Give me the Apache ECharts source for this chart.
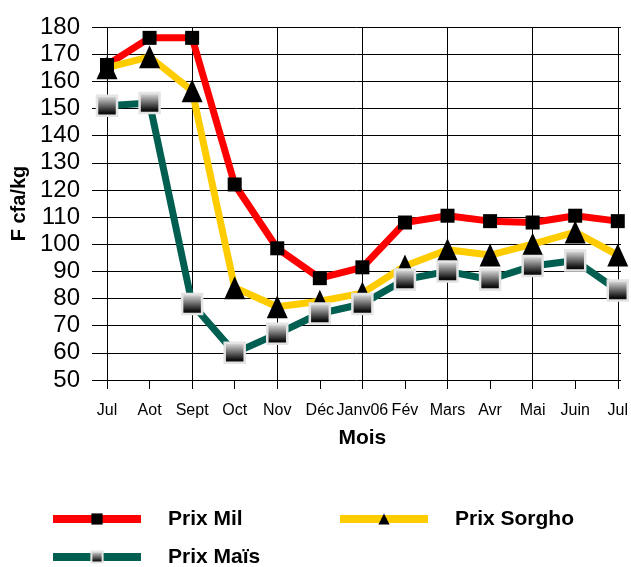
<!DOCTYPE html>
<html><head><meta charset="utf-8">
<script src="https://cdn.jsdelivr.net/npm/echarts@6/dist/echarts.min.js"></script>
<style>html,body{margin:0;padding:0;background:#fff}#c{width:631px;height:567px}</style>
</head><body><div id="c"></div>
<script>
const months = ['Jul','Aot','Sept','Oct','Nov','Déc','Janv06','Fév','Mars','Avr','Mai','Juin','Jul'];
const prixMil = [166,176,176,122,98.5,87.5,91.5,108,110.5,108.5,108,110.5,108.5];
const prixSorgho = [165,169,156.5,84,77,79,82,92,98,96,100,104.5,96];
const prixMais = [151,152,78,60,67,74.5,78,87,90,87,92,94,83];
const yMin = 50, yMax = 180, yStep = 10;

const FF = '"Liberation Sans", Arial, sans-serif';
const chart = echarts.init(document.getElementById('c'), null, {renderer:'canvas'});
const maisGrad = new echarts.graphic.LinearGradient(0,0,0,1,[
  {offset:0,color:'#f2f2f2'},{offset:0.8,color:'#111'},{offset:1,color:'#000'}]);
const legendText = {fontFamily:FF,fontSize:21,fontWeight:'bold',color:'#000',lineHeight:24,padding:[0,0,0,22]};
const legendBase = {itemWidth:88,itemHeight:14,padding:0,lineStyle:{width:8},textStyle:legendText,selectedMode:false};
chart.setOption({
  backgroundColor:'#fff',
  animation:false,
  grid:[
    {left:92,right:10,top:27,bottom:187},
    {left:107,right:10,top:27,bottom:187}
  ],
  xAxis:[
    {gridIndex:0,type:'value',min:0,max:1,show:false},
    {gridIndex:1,type:'category',data:months,boundaryGap:false,
     name:'Mois',nameLocation:'middle',nameGap:48,
     nameTextStyle:{fontFamily:FF,fontSize:21,fontWeight:'bold',color:'#000'},
     axisLine:{show:false},
     axisTick:{show:true,interval:0,length:9,lineStyle:{color:'#000',width:1}},
     axisLabel:{interval:0,margin:23,fontFamily:FF,fontSize:16,color:'#000'},
     splitLine:{show:true,interval:1,lineStyle:{color:'#000',width:1}}}
  ],
  yAxis:[
    {gridIndex:0,type:'value',min:yMin,max:yMax,interval:yStep,
     name:'F cfa/kg',nameLocation:'middle',nameGap:56,nameRotate:90,
     nameTextStyle:{fontFamily:FF,fontSize:20,fontWeight:'bold',color:'#000'},
     axisLine:{show:false},axisTick:{show:false},
     axisLabel:{margin:12,fontFamily:FF,fontSize:24,color:'#000'},
     splitLine:{show:true,lineStyle:{color:'#000',width:1}}},
    {gridIndex:1,type:'value',min:yMin,max:yMax,interval:yStep,show:false,splitLine:{show:false}}
  ],
  legend:[
    Object.assign({data:['Prix Mil'],left:49,top:507},legendBase),
    Object.assign({data:['Prix Sorgho'],left:336,top:507},legendBase),
    Object.assign({data:['Prix Maïs'],left:49,top:545},legendBase)
  ],
  series:[
    {name:'Prix Mil',type:'line',xAxisIndex:1,yAxisIndex:1,data:prixMil,
     symbol:'rect',symbolSize:14,showSymbol:true,
     lineStyle:{color:'#ff0000',width:7},itemStyle:{color:'#000'}},
    {name:'Prix Sorgho',type:'line',xAxisIndex:1,yAxisIndex:1,data:prixSorgho,
     symbol:'triangle',symbolSize:[21,23],showSymbol:true,
     lineStyle:{color:'#ffcc00',width:7},itemStyle:{color:'#000'}},
    {name:'Prix Maïs',type:'line',xAxisIndex:1,yAxisIndex:1,data:prixMais,
     symbol:'rect',symbolSize:20,showSymbol:true,
     lineStyle:{color:'#005f50',width:7},
     itemStyle:{color:maisGrad,borderColor:'#e4e4e4',borderWidth:2.5}}
  ]
});
</script></body></html>
